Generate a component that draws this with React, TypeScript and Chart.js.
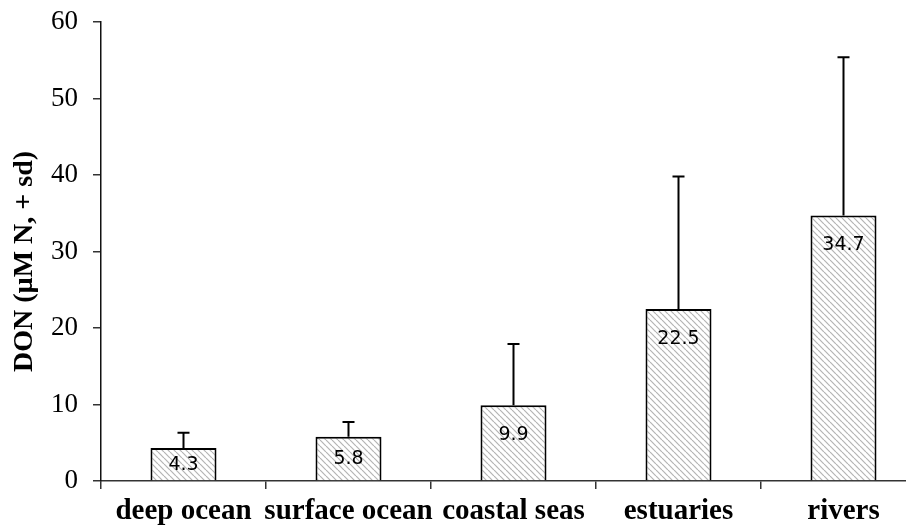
import { useEffect, useRef } from 'react';
import { Chart, registerables } from 'chart.js';

Chart.register(...registerables);

const categories = ['deep ocean', 'surface ocean', 'coastal seas', 'estuaries', 'rivers'];
const means = [4.3, 5.8, 9.9, 22.5, 34.7];
const sds = [2.0, 1.9, 8.0, 17.3, 20.7];
const yMin = 0;
const yMax = 60;
const yStep = 10;
const yTitle = 'DON (µM N, + sd)';

function makePattern(): CanvasPattern | string {
  const s = 6;
  const c = document.createElement('canvas');
  c.width = s;
  c.height = s;
  const g = c.getContext('2d');
  if (!g) return '#ddd';
  g.fillStyle = '#ffffff';
  g.fillRect(0, 0, s, s);
  g.strokeStyle = '#b4b4b4';
  g.lineWidth = 1.2;
  for (const off of [-s, 0, s]) {
    g.beginPath();
    g.moveTo(off, 0);
    g.lineTo(off + s, s);
    g.stroke();
  }
  const p = g.createPattern(c, 'repeat');
  return p || '#ddd';
}

const errorBarPlugin = {
  id: 'errorBarsAndLabels',
  afterDatasetsDraw(chart: any) {
    const meta = chart.getDatasetMeta(0);
    const yScale = chart.scales.y;
    const ctx = chart.ctx as CanvasRenderingContext2D;
    ctx.save();
    meta.data.forEach((bar: any, i: number) => {
      const x = bar.x;
      const top = yScale.getPixelForValue(means[i] + sds[i]);
      ctx.strokeStyle = '#000';
      ctx.lineWidth = 2;
      ctx.beginPath();
      ctx.moveTo(x, bar.y);
      ctx.lineTo(x, top);
      ctx.moveTo(x - 6, top);
      ctx.lineTo(x + 6, top);
      ctx.stroke();

      const h = bar.base - bar.y;
      const ly = bar.y + Math.min(29, h / 2);
      ctx.fillStyle = '#000';
      ctx.font = '19px "DejaVu Sans"';
      ctx.textAlign = 'center';
      ctx.textBaseline = 'middle';
      ctx.fillText(means[i].toFixed(1), x, ly + 1);
    });
    ctx.restore();
  },
  afterDraw(chart: any) {
    const ctx = chart.ctx as CanvasRenderingContext2D;
    const area = chart.chartArea;
    ctx.save();
    ctx.translate(17, (area.top + area.bottom) / 2 + 10);
    ctx.rotate(-Math.PI / 2);
    ctx.fillStyle = '#000';
    ctx.font = 'bold 28px "Liberation Serif"';
    ctx.textAlign = 'center';
    ctx.textBaseline = 'middle';
    ctx.fillText(yTitle, 0, 0);
    ctx.restore();
  },
};

export default function App() {
  const ref = useRef<HTMLCanvasElement>(null);

  useEffect(() => {
    if (!ref.current) return;
    const chart = new Chart(ref.current, {
      type: 'bar',
      data: {
        labels: categories,
        datasets: [
          {
            data: means,
            backgroundColor: makePattern() as any,
            borderColor: '#000',
            borderWidth: 2,
            barPercentage: 0.4,
            categoryPercentage: 1,
          },
        ],
      },
      options: {
        responsive: false,
        animation: false,
        devicePixelRatio: 1,
        layout: { padding: { top: 0, right: 12, left: 0, bottom: 0 } },
        plugins: {
          legend: { display: false },
          tooltip: { enabled: false },
        },
        scales: {
          x: {
            afterFit: (s: any) => {
              s.height = 50;
            },
            grid: {
              offset: true,
              drawOnChartArea: false,
              drawTicks: true,
              tickLength: 8,
              color: '#333',
              lineWidth: 1.5,
            },
            border: { color: '#333', width: 1.5 },
            ticks: {
              color: '#000',
              padding: 5,
              maxRotation: 0,
              autoSkip: false,
              font: { family: '"Liberation Serif"', size: 29, weight: 'bold' },
            },
          },
          y: {
            min: yMin,
            max: yMax,
            afterFit: (s: any) => {
              s.width = 93;
              s.paddingTop = 14;
              s.paddingBottom = 14;
            },
            grid: {
              drawOnChartArea: false,
              drawTicks: true,
              tickLength: 8,
              color: '#333',
              lineWidth: 1.5,
            },
            border: { color: '#111', width: 1.5 },
            ticks: {
              stepSize: yStep,
              color: '#000',
              padding: 15,
              font: { family: '"Liberation Serif"', size: 27, lineHeight: 1 },
            },
          },
        },
      },
      plugins: [errorBarPlugin],
    });
    return () => chart.destroy();
  }, []);

  return (
    <div style={{ width: 906, height: 523, overflow: 'hidden' }}>
      <canvas ref={ref} width={930} height={523} />
    </div>
  );
}
